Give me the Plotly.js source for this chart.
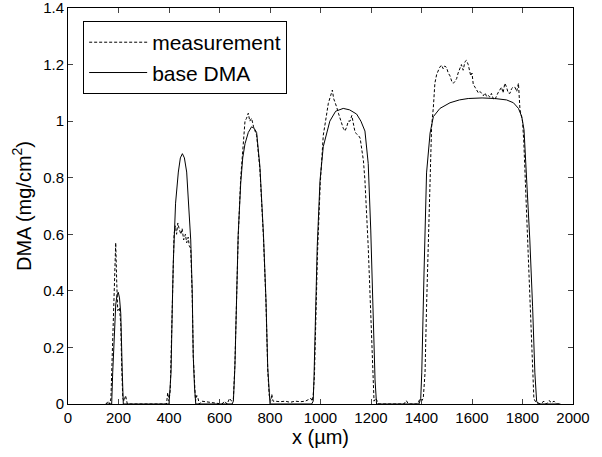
<!DOCTYPE html>
<html>
<head>
<meta charset="utf-8">
<script src="https://cdn.plot.ly/plotly-3.0.1.min.js"></script>
<style>html,body{margin:0;padding:0;background:#fff;}#chart{width:602px;height:457px;}</style>
</head>
<body>
<div id="chart"></div>
<script>
// base DMA (solid)
var xBase = [150,173,177,183,189,194,199,204,209,215,219,
  400,401,408,413,417,426,437,445,453,461,470,478,486,492,496,501,506,
  650,655,661,668,674,684,692,701,714,727,737,747,760,774,784,791,796,800,
  965,971,974,981,987,998,1011,1037,1060,1090,1115,1143,1160,1176,1189,1199,1209,1216,1222,
  1390,1397,1401,1410,1420,1434,1447,1473,1513,1550,1585,1640,1690,1737,1764,1784,1797,1806,1816,1829,1840,1849,1856,1862,1950];
var yBase = [0,0,0.11,0.26,0.35,0.385,0.395,0.375,0.32,0.11,0,
  0,0.01,0.11,0.34,0.5,0.71,0.82,0.87,0.885,0.87,0.82,0.7,0.58,0.4,0.17,0.06,0,
  0,0.01,0.13,0.37,0.6,0.78,0.87,0.92,0.96,0.98,0.975,0.96,0.84,0.6,0.37,0.13,0.04,0,
  0,0.01,0.085,0.32,0.556,0.79,0.91,1.0,1.035,1.045,1.04,1.025,1.0,0.965,0.85,0.615,0.32,0.085,0,
  0,0.02,0.11,0.463,0.817,0.958,1.016,1.045,1.065,1.075,1.08,1.082,1.08,1.075,1.065,1.045,1.016,0.969,0.817,0.58,0.344,0.11,0.01,0,0];

// measurement (dashed)
var xMeas = [150,160,165,170,173,180,183,189,193,197,204,209,213,217,222,228,235,
  390,395,400,405,410,415,420,425,430,435,440,447,452,458,465,470,476,480,486,492,496,501,505,510,515,520,530,
  610,620,630,640,648,655,661,668,674,684,692,701,707,714,720,727,735,747,760,774,784,791,797,803,807,812,820,840,860,880,900,920,940,955,962,967,
  971,976,982,988,999,1011,1020,1031,1040,1047,1052,1057,1064,1071,1078,1084,1090,1097,1104,1110,1117,1124,1130,1137,1143,1150,1157,1163,1170,1176,1189,1199,1207,1212,1218,1225,1232,
  1330,1340,1348,1385,1392,1400,1407,1414,1420,1427,1434,1440,1447,1453,1460,1466,1472,1479,1486,1492,1499,1506,1513,1520,1526,1532,1539,1545,1552,1558,1565,1572,1578,1585,1590,1595,1600,1605,1612,1618,1625,1632,1638,1645,1652,1658,1665,1671,1677,1684,1690,1697,1703,1710,1717,1723,1730,1737,1743,1750,1757,1763,1770,1777,1784,1790,1800,1805,1810,1819,1829,1839,1845,1850,1870,1885,1895,1905,1915,1925,1935,1945];
var yMeas = [0,0.01,0,0.02,0.108,0.32,0.46,0.57,0.43,0.33,0.34,0.28,0.12,0.02,0.01,0.03,0,
  0,0.04,0.01,0.05,0.2,0.42,0.6,0.63,0.6,0.64,0.62,0.6,0.62,0.58,0.6,0.57,0.59,0.56,0.55,0.38,0.17,0.05,0.01,0.03,0.02,0,0.01,
  0,0.01,0,0.02,0.01,0.02,0.14,0.36,0.59,0.8,0.9,1.0,1.01,1.028,1.0,1.01,0.98,0.95,0.83,0.59,0.36,0.12,0.03,0.01,0.035,0.01,0.01,0.008,0.01,0.006,0.01,0.008,0.01,0.015,0.02,0.01,
  0.03,0.1,0.3,0.53,0.78,0.95,1.0,1.063,1.09,1.11,1.08,1.07,1.05,1.028,1.01,0.99,0.975,0.965,0.98,1.0,1.0,1.02,0.99,0.96,0.955,0.95,0.94,0.91,0.86,0.79,0.556,0.32,0.085,0.01,0.02,0.01,0,
  0,0.012,0,0,0.015,0.01,0.02,0.11,0.344,0.58,0.817,0.98,1.05,1.134,1.165,1.18,1.19,1.198,1.185,1.195,1.19,1.17,1.16,1.14,1.134,1.14,1.15,1.17,1.19,1.2,1.18,1.21,1.215,1.2,1.18,1.16,1.17,1.13,1.12,1.11,1.1,1.105,1.098,1.09,1.1,1.086,1.09,1.085,1.098,1.08,1.075,1.09,1.1,1.11,1.12,1.1,1.134,1.12,1.1,1.098,1.115,1.12,1.12,1.105,1.134,1.04,1.0,0.93,0.817,0.58,0.344,0.11,0.02,0.01,0,0.01,0,0.012,0.005,0.01,0,0];

var xTickVals = [0,200,400,600,800,1000,1200,1400,1600,1800,2000];
var yTickVals = [0,0.2,0.4,0.6,0.8,1,1.2,1.4];
var yTickText = ['0','0.2','0.4','0.6','0.8','1','1.2','1.4'];

var FONT = 'Liberation Sans, Arial, sans-serif';

var traces = [
  {x: xMeas, y: yMeas, mode: 'lines', name: 'measurement',
   line: {color: '#000', width: 1, dash: '3px,2px'}},
  {x: xBase, y: yBase, mode: 'lines', name: 'base DMA',
   line: {color: '#000', width: 1}}
];

var layout = {
  width: 602, height: 457,
  margin: {l: 68, r: 29, t: 8, b: 53},
  paper_bgcolor: '#fff', plot_bgcolor: '#fff',
  font: {family: FONT, color: '#000', size: 15},
  showlegend: true,
  legend: {x: 0.03, y: 0.967, xanchor: 'left', yanchor: 'top',
    bordercolor: '#000', borderwidth: 1, bgcolor: '#fff', itemwidth: 58,
    font: {family: FONT, size: 21, color: '#000'}, tracegroupgap: 0},
  xaxis: {range: [0, 2000], tickvals: xTickVals, ticks: 'inside', ticklen: 5,
    showline: true, linecolor: '#000', linewidth: 1, mirror: 'ticks',
    showgrid: false, zeroline: false, tickfont: {size: 15}, ticklabeloverflow: 'allow',
    title: {text: 'x (\u00b5m)', font: {size: 20}, standoff: 4}},
  yaxis: {range: [0, 1.4], tickvals: yTickVals, ticktext: yTickText, ticks: 'inside', ticklen: 5,
    showline: true, linecolor: '#000', linewidth: 1, mirror: 'ticks',
    showgrid: false, zeroline: false, tickfont: {size: 15}, ticklabeloverflow: 'allow',
    title: {text: 'DMA (mg/cm<sup>2</sup>)', font: {size: 20}, standoff: 6}}
};

Plotly.newPlot('chart', traces, layout, {displayModeBar: false, staticPlot: true});
</script>
</body>
</html>
